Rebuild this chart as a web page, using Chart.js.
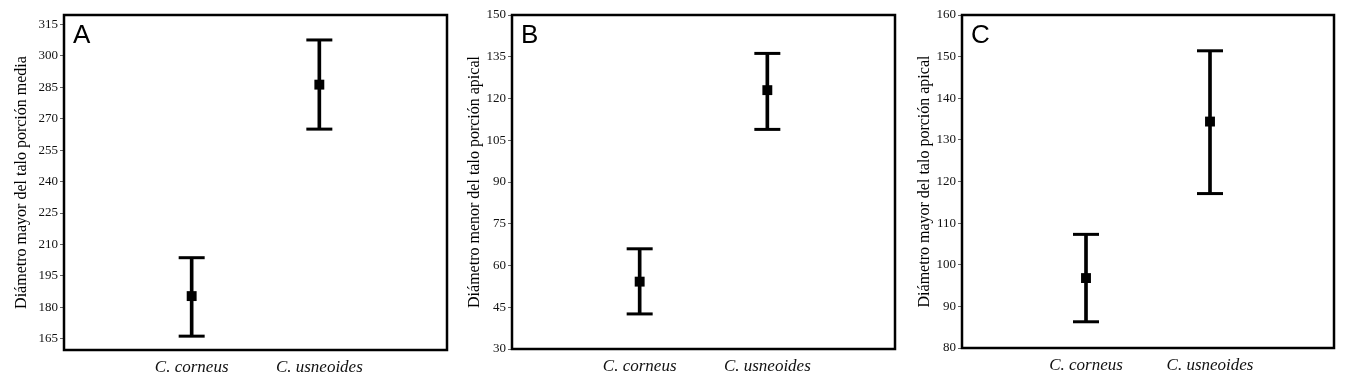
<!DOCTYPE html>
<html>
<head>
<meta charset="utf-8">
<script src="https://cdn.jsdelivr.net/npm/chart.js@4"></script>
<style>
  html, body { margin: 0; padding: 0; background: #fff; }
  .panel { position: absolute; top: 0; height: 383px; }
  .panel canvas { display: block; }
</style>
</head>
<body>
<div class="panel" id="pA" style="left:0px;width:454px;"><canvas id="cA"></canvas></div>
<div class="panel" id="pB" style="left:450px;width:452px;"><canvas id="cB"></canvas></div>
<div class="panel" id="pC" style="left:898px;width:450px;"><canvas id="cC"></canvas></div>
<script>
// ---- data ----
const categories = ['C. corneus', 'C. usneoides'];

const titleA = 'Diámetro mayor del talo porción media';
const meanA  = [185.4, 286.2];
const upperA = [203.7, 307.5];
const lowerA = [166.3, 265.0];
const ticksA = [165, 180, 195, 210, 225, 240, 255, 270, 285, 300, 315];
const rangeA = [159.7, 319.4];

const titleB = 'Diámetro menor del talo porción apical';
const meanB  = [54.2, 123.0];
const upperB = [66.0, 136.2];
const lowerB = [42.6, 108.9];
const ticksB = [30, 45, 60, 75, 90, 105, 120, 135, 150];
const rangeB = [30, 150];

const titleC = 'Diámetro mayor del talo porción apical';
const meanC  = [96.8, 134.4];
const upperC = [107.3, 151.4];
const lowerC = [86.3, 117.1];
const ticksC = [80, 90, 100, 110, 120, 130, 140, 150, 160];
const rangeC = [80, 160];

// ---- helpers ----
const SERIF = '"Liberation Serif", "Times New Roman", serif';

const boxPlugin = {
  id: 'box',
  afterDatasetsDraw(chart, args, opts) {
    const a = chart.chartArea, ctx = chart.ctx;
    ctx.save();
    ctx.strokeStyle = '#000';
    ctx.lineWidth = 2.5;
    ctx.strokeRect(a.left, a.top, a.right - a.left, a.bottom - a.top);
    ctx.fillStyle = '#000';
    ctx.font = '26px "Liberation Sans", Arial, sans-serif';
    ctx.textBaseline = 'top';
    ctx.textAlign = 'left';
    ctx.fillText(opts.letter, a.left + 9, a.top + 8);
    ctx.restore();
  }
};

function makeChart(id, letter, title, mean, upper, lower, ticks, range, lay) {
  const labels = ['', ...categories, ''];
  const pad = arr => [null, ...arr, null];
  const bars = [null, ...lower.map((l, i) => [l, upper[i]]), null];
  new Chart(document.getElementById(id), {
    type: 'bar',
    data: {
      labels,
      datasets: [
        { type: 'bar', data: bars, backgroundColor: '#000', borderWidth: 0,
          barThickness: 3, order: 3 },
        { type: 'line', data: pad(upper), showLine: false, pointStyle: 'line',
          pointRadius: 13, pointBorderWidth: 3, borderColor: '#000', order: 2 },
        { type: 'line', data: pad(lower), showLine: false, pointStyle: 'line',
          pointRadius: 13, pointBorderWidth: 3, borderColor: '#000', order: 2 },
        { type: 'line', data: pad(mean), showLine: false, pointStyle: 'rect',
          pointRadius: 7, pointBorderWidth: 0, backgroundColor: '#000',
          borderColor: '#000', order: 1 }
      ]
    },
    options: {
      responsive: true,
      maintainAspectRatio: false,
      animation: false,
      events: [],
      layout: { autoPadding: false,
                padding: { left: lay.pl, right: lay.pr, top: 15, bottom: 0 } },
      plugins: { legend: { display: false }, tooltip: { enabled: false },
                 box: { letter } },
      scales: {
        x: {
          type: 'category', offset: false,
          grid: { display: false, drawTicks: false },
          border: { display: false },
          ticks: { color: '#111', padding: 7, maxRotation: 0, autoSkip: false,
                   font: { family: SERIF, size: 17, style: 'italic' } },
          afterFit(s) { s.height = lay.xh; }
        },
        y: {
          min: range[0], max: range[1],
          afterBuildTicks(s) { s.ticks = ticks.map(v => ({ value: v })); },
          grid: { drawOnChartArea: false, drawTicks: true, tickLength: 4,
                  color: '#666', lineWidth: 1 },
          border: { display: false },
          ticks: { color: '#111', padding: 2,
                   font: { family: SERIF, size: 13 } },
          title: { display: true, text: title, color: '#000', padding: 0,
                   font: { family: SERIF, size: 16 } },
          afterFit(s) { s.width = lay.yw; }
        }
      }
    },
    plugins: [boxPlugin]
  });
}

makeChart('cA', 'A', titleA, meanA, upperA, lowerA, ticksA, rangeA,
          { pl: 12, pr: 0, yw: 52, xh: 33 });
makeChart('cB', 'B', titleB, meanB, upperB, lowerB, ticksB, rangeB,
          { pl: 15, pr: 0, yw: 47, xh: 34 });
makeChart('cC', 'C', titleC, meanC, upperC, lowerC, ticksC, rangeC,
          { pl: 17, pr: 14, yw: 47, xh: 35 });
</script>
</body>
</html>
